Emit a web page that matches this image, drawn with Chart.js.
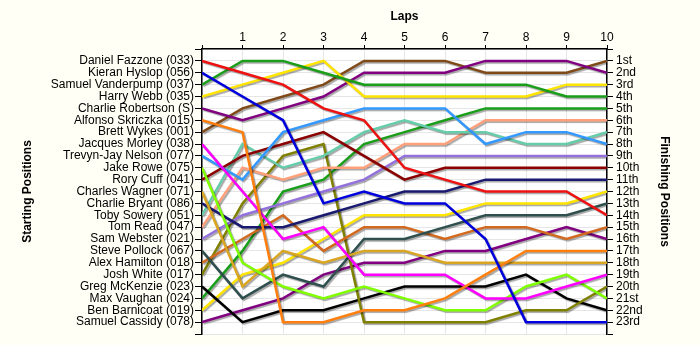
<!DOCTYPE html>
<html>
<head>
<meta charset="utf-8">
<script src="https://cdn.jsdelivr.net/npm/chart.js@4.4.1/dist/chart.umd.min.js"></script>
<style>
  html, body { margin: 0; padding: 0; background: #fffff5; }
  #wrap { position: relative; width: 700px; height: 345px; }
</style>
</head>
<body>
<div id="wrap"><canvas id="c"></canvas></div>
<script>
// starting grid order
const drivers = [
  'Daniel Fazzone (033)', 'Kieran Hyslop (056)', 'Samuel Vanderpump (037)', 'Harry Webb (035)',
  'Charlie Robertson (S)', 'Alfonso Skriczka (015)', 'Brett Wykes (001)', 'Jacques Morley (038)',
  'Trevyn-Jay Nelson (077)', 'Jake Rowe (075)', 'Rory Cuff (041)', 'Charles Wagner (071)',
  'Charlie Bryant (086)', 'Toby Sowery (051)', 'Tom Read (047)', 'Sam Webster (021)',
  'Steve Pollock (067)', 'Alex Hamilton (018)', 'Josh White (017)', 'Greg McKenzie (023)',
  'Max Vaughan (024)', 'Ben Barnicoat (019)', 'Samuel Cassidy (078)'
];

const laps = [0, 1, 2, 3, 4, 5, 6, 7, 8, 9, 10];

// position of each driver at the start (lap 0) and after every lap
const lapPositions = [
  [1, 2, 3, 5, 6, 10, 11, 12, 12, 12, 14],
  [2, 4, 6, 13, 12, 13, 13, 16, 23, 23, 23],
  [3, 1, 1, 2, 3, 3, 3, 3, 3, 4, 4],
  [4, 3, 2, 1, 4, 4, 4, 4, 4, 3, 3],
  [5, 6, 5, 4, 2, 2, 2, 1, 1, 1, 2],
  [6, 7, 23, 23, 22, 22, 21, 19, 17, 17, 17],
  [7, 5, 4, 3, 1, 1, 1, 2, 2, 2, 1],
  [8, 12, 16, 15, 19, 19, 19, 21, 21, 20, 19],
  [9, 11, 7, 6, 5, 5, 5, 8, 7, 7, 8],
  [10, 18, 20, 21, 20, 21, 22, 22, 20, 19, 21],
  [11, 9, 8, 7, 9, 11, 10, 10, 10, 10, 10],
  [12, 20, 17, 18, 17, 17, 18, 18, 18, 18, 18],
  [13, 15, 15, 14, 13, 12, 12, 11, 11, 11, 11],
  [14, 8, 10, 9, 7, 6, 7, 7, 8, 8, 7],
  [15, 10, 11, 10, 10, 8, 8, 6, 6, 6, 6],
  [16, 14, 13, 12, 11, 9, 9, 9, 9, 9, 9],
  [17, 21, 19, 20, 16, 16, 15, 14, 14, 14, 13],
  [18, 16, 14, 17, 15, 15, 16, 15, 15, 16, 15],
  [19, 13, 9, 8, 23, 23, 23, 23, 22, 22, 20],
  [20, 23, 22, 22, 21, 20, 20, 20, 19, 21, 22],
  [21, 17, 12, 11, 8, 7, 6, 5, 5, 5, 5],
  [22, 19, 18, 16, 14, 14, 14, 13, 13, 13, 12],
  [23, 22, 21, 19, 18, 18, 17, 17, 16, 15, 16]
];

const finishLabels = [
  '1st', '2nd', '3rd', '4th', '5th', '6th', '7th', '8th', '9th', '10th', '11th', '12th',
  '13th', '14th', '15th', '16th', '17th', '18th', '19th', '20th', '21st', '22nd', '23rd'
];

const lineColors = [
  '#ee1111', '#0000dd', '#1a9e1a', '#ffe400', '#800080', '#ff7f0e', '#7f4a18', '#ff00ff',
  '#3399ff', '#80ff00', '#8b0000', '#daa520', '#191970', '#66cdaa', '#ffa07a', '#9370db',
  '#2f4f4f', '#d2691e', '#808000', '#000000', '#1a9e1a', '#ffe400', '#800080'
];

Chart.defaults.font.family = 'Arial, "Liberation Sans", sans-serif';
Chart.defaults.font.size = 12;
Chart.defaults.color = '#000';

const pad = { top: 0, bottom: 11, left: 10, right: 20 };

const plotBg = {
  id: 'plotBg',
  beforeDraw(chart) {
    const { ctx, chartArea: a } = chart;
    ctx.save();
    ctx.fillStyle = '#ffffff';
    ctx.fillRect(a.left, a.top, a.right - a.left, a.bottom - a.top);
    ctx.restore();
  }
};

// soft drop shadow under the lines
const lineShadow = {
  id: 'lineShadow',
  beforeDatasetsDraw(chart) {
    const ctx = chart.ctx;
    ctx.save();
    ctx.shadowColor = 'rgba(0,0,0,0.35)';
    ctx.shadowOffsetX = 1.5;
    ctx.shadowOffsetY = 1.5;
    ctx.shadowBlur = 1;
  },
  afterDatasetsDraw(chart) {
    chart.ctx.restore();
  }
};

const datasets = drivers.map((name, i) => ({
  label: name,
  data: laps.map((lap, j) => ({ x: lap, y: lapPositions[i][j] })),
  borderColor: lineColors[i],
  borderWidth: 2.5,
  pointRadius: 0,
  tension: 0,
  fill: false
}));

const gridColor = '#e6e6e6';

new Chart(document.getElementById('c'), {
  type: 'line',
  data: { datasets },
  plugins: [plotBg, lineShadow],
  options: {
    responsive: true,
    maintainAspectRatio: false,
    animation: false,
    layout: { padding: pad },
    plugins: { legend: { display: false }, tooltip: { enabled: false } },
    scales: {
      x: {
        type: 'linear',
        position: 'top',
        min: 0,
        max: 10,
        afterFit: s => { s.height = 49 - pad.top; },
        ticks: {
          stepSize: 1,
          autoSkip: false,
          maxRotation: 0,
          padding: 0,
          callback: v => (v === 0 ? '' : v)
        },
        grid: { color: gridColor, tickColor: '#000', tickLength: 4 },
        border: { color: '#000', width: 1.5 },
        title: { display: true, text: 'Laps', font: { weight: 'bold', size: 12 }, padding: { top: 9, bottom: 0 } }
      },
      y: {
        type: 'linear',
        position: 'left',
        min: 0,
        max: 24,
        reverse: true,
        afterFit: s => { s.width = 202 - pad.left; },
        ticks: {
          stepSize: 1,
          autoSkip: false,
          padding: 1,
          callback: v => drivers[v - 1] || ''
        },
        grid: { color: gridColor, tickColor: '#000', tickLength: 7 },
        border: { color: '#000', width: 1.5 },
        title: { display: true, text: 'Starting Positions', font: { weight: 'bold', size: 12 }, padding: { top: 10, bottom: 0 } }
      },
      y2: {
        type: 'linear',
        position: 'right',
        min: 0,
        max: 24,
        reverse: true,
        afterFit: s => { s.width = 700 - pad.right - 607; },
        ticks: {
          stepSize: 1,
          autoSkip: false,
          padding: 3,
          callback: v => finishLabels[v - 1] || ''
        },
        grid: { drawOnChartArea: false, tickColor: '#000', tickLength: 6 },
        border: { color: '#000', width: 1.5 },
        title: { display: true, text: 'Finishing Positions', font: { weight: 'bold', size: 12 }, padding: { top: 8, bottom: 0 } }
      }
    }
  }
});
</script>
</body>
</html>
